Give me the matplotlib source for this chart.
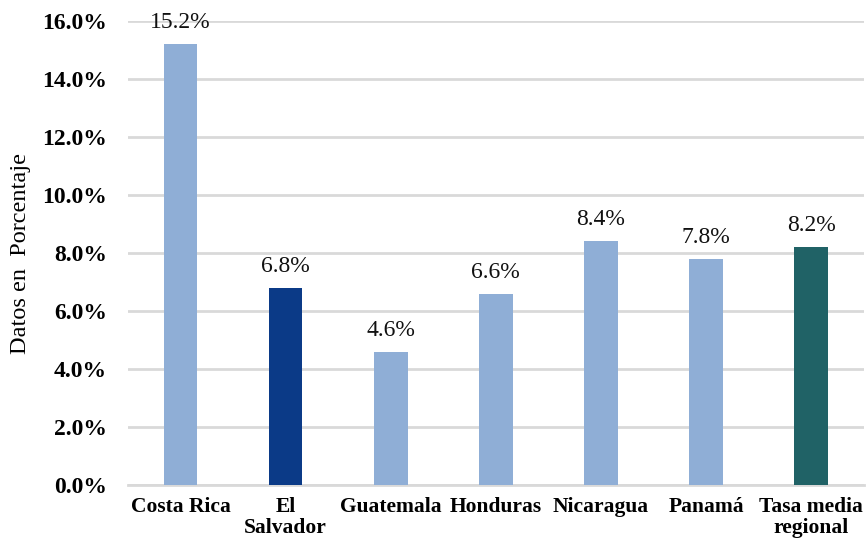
import matplotlib.pyplot as plt
from matplotlib.ticker import FuncFormatter

countries = ["Costa Rica", "El\nSalvador", "Guatemala", "Honduras",
             "Nicaragua", "Panamá", "Tasa media\nregional"]
values = [15.2, 6.8, 4.6, 6.6, 8.4, 7.8, 8.2]
colors = ["#8FAED6", "#0B3A87", "#8FAED6", "#8FAED6",
          "#8FAED6", "#8FAED6", "#206266"]

plt.rcParams["font.family"] = ["Liberation Serif", "DejaVu Serif"]

fig = plt.figure(figsize=(8.68, 5.49), dpi=100)
ax = fig.add_axes([0.1475, 0.1166, 0.8475, 0.8451])

x = range(len(countries))
bars = ax.bar(x, values, width=0.32, color=colors, zorder=3)

# value labels above bars
for b, v in zip(bars, values):
    ax.text(b.get_x() + b.get_width() / 2, v + 0.38, f"{v:.1f}%",
            ha="center", va="bottom", fontsize=17, color="#111111")

ax.set_xlim(-0.5, len(countries) - 0.5)
ax.set_ylim(0, 16)
ax.set_yticks([0, 2, 4, 6, 8, 10, 12, 14, 16])
ax.yaxis.set_major_formatter(FuncFormatter(lambda v, p: f"{v:.1f}%"))
ax.set_xticks(list(x))
ax.set_xticklabels(countries, fontweight="bold", fontsize=15.5,
                   linespacing=1.05)
for lbl in ax.get_yticklabels():
    lbl.set_fontweight("bold")
    lbl.set_fontsize(17)

ax.grid(axis="y", color="#D9D9D9", linewidth=2, zorder=0)
for s in ["top", "right", "left"]:
    ax.spines[s].set_visible(False)
ax.spines["bottom"].set_color("#D9D9D9")
ax.spines["bottom"].set_linewidth(2)
ax.tick_params(axis="both", length=0)
ax.tick_params(axis="y", pad=15)
ax.tick_params(axis="x", pad=9)

ax.set_ylabel("Datos en  Porcentaje", fontsize=17.5, labelpad=8)

plt.savefig("out.png", dpi=100)
